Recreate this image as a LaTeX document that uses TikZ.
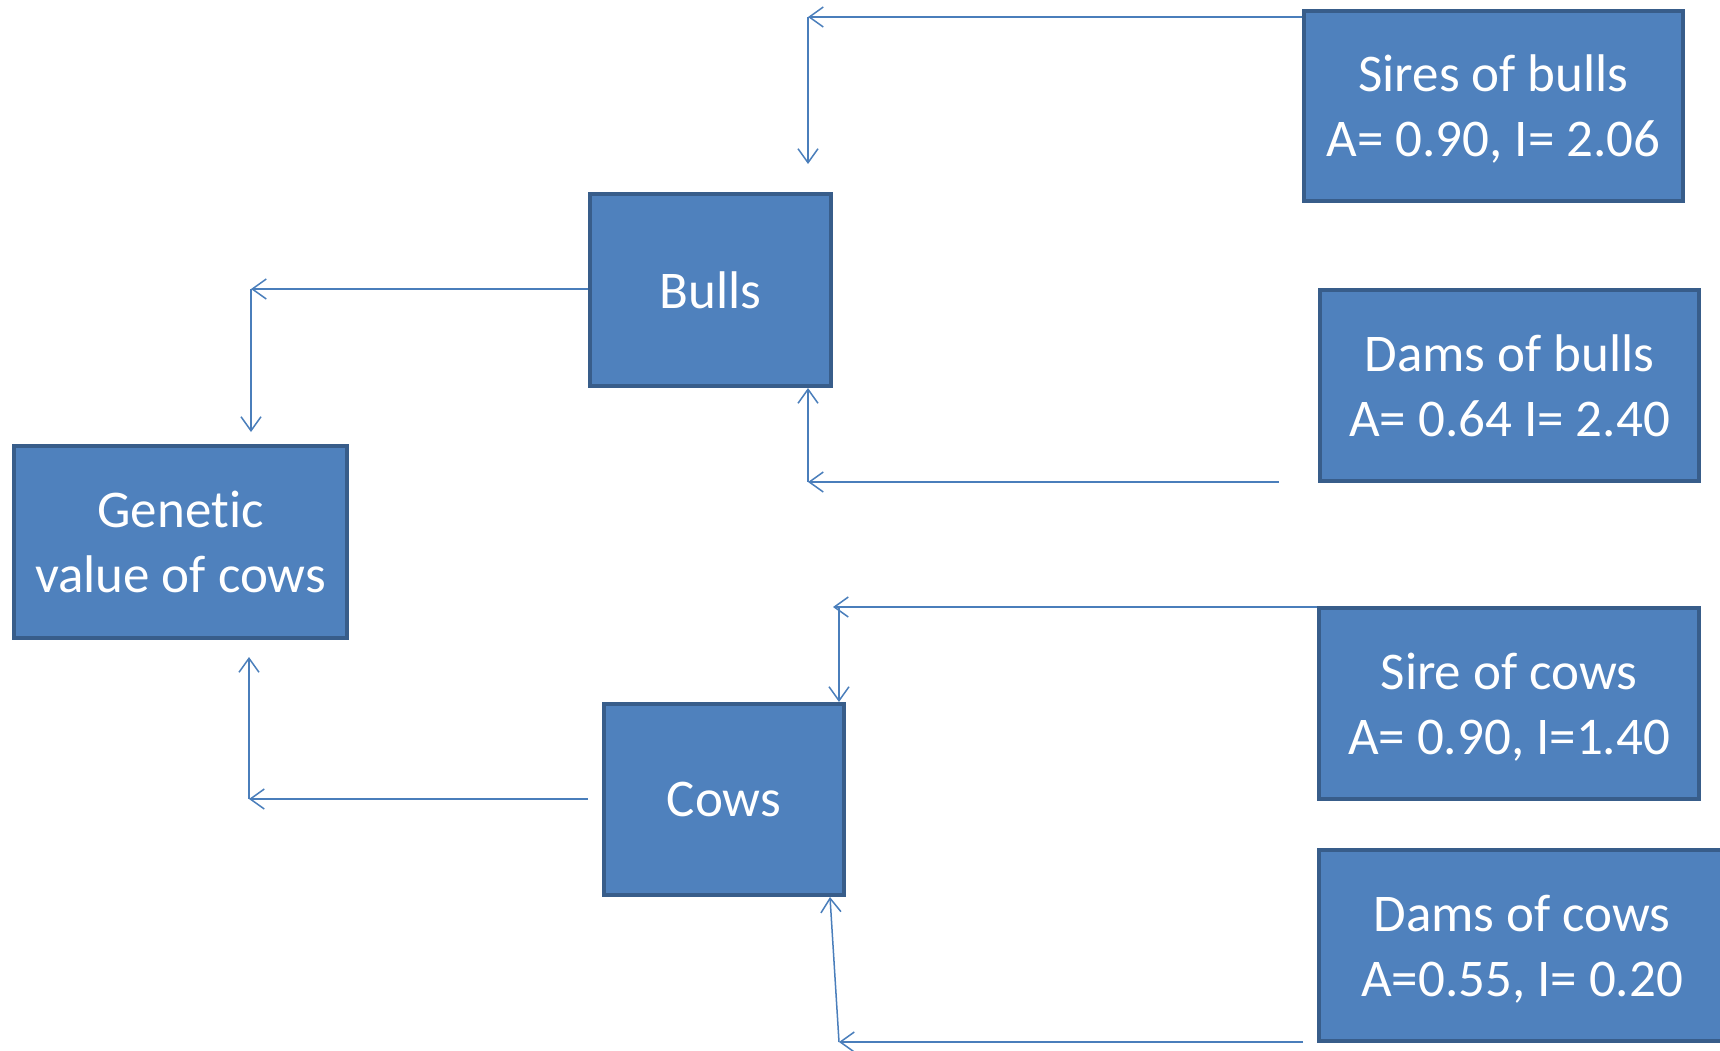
\documentclass[tikz,border=0pt]{standalone}
\usepackage{fontspec}
\setmainfont[Ligatures=NoCommon]{Carlito}
\usetikzlibrary{arrows.meta}
\definecolor{boxfill}{HTML}{4F81BD}
\definecolor{boxline}{HTML}{385D8A}
\definecolor{connc}{HTML}{4A7EBB}
\tikzset{
  box/.style={draw=boxline, fill=boxfill, line width=4pt, inner sep=0pt,
    text=white, align=center, text depth=0pt, font=\fontsize{53}{65}\selectfont},
  conn/.style={draw=connc, line width=1.5pt,
    -{Straight Barb[length=14pt,width=20pt,line width=1.5pt]}}
}
\begin{document}
\begin{tikzpicture}[x=1pt,y=-1pt]
\useasboundingbox (0,0) rectangle (1720,1050);
\clip (0,0) rectangle (1720,1050);
% boxes
\node[box, minimum width=333pt, minimum height=192pt] (gen) at (180.5,542) {Genetic\\value of cows};
\node[box, minimum width=241pt, minimum height=192pt] (bulls) at (710.5,290) {Bulls};
\node[box, minimum width=240pt, minimum height=191pt] (cows) at (724,799.5) {Cows};
\node[box, minimum width=379pt, minimum height=190pt] (sires) at (1493.5,106) {Sires of bulls\\A= 0.90, I= 2.06};
\node[box, minimum width=379pt, minimum height=191pt] (damsb) at (1509.5,385.5) {Dams of bulls\\A= 0.64 I= 2.40};
\node[box, minimum width=380pt, minimum height=191pt] (sirec) at (1509,703.5) {Sire of cows\\A= 0.90, I=1.40};
\node[box, minimum width=406pt, minimum height=191pt] (damsc) at (1522,945.5) {Dams of cows\\A=0.55, I= 0.20};
% connector points
\coordinate (sbC) at (808,17);
\coordinate (sbE) at (808,164);
\coordinate (bgC) at (251,289);
\coordinate (bgE) at (251,432);
\coordinate (dbS) at (1279,482);
\coordinate (dbC) at (808,482);
\coordinate (cgS) at (588,799);
\coordinate (cgC) at (249,799);
\coordinate (cgE) at (249,657);
\coordinate (scC) at (833,607);
\coordinate (scV) at (839,607);
\coordinate (dcS) at (1303,1042);
\coordinate (dcC) at (839,1042);
\coordinate (dcE) at (830,897);
% connectors
\draw[conn] (sires.west |- sbC) -- (sbC);
\draw[conn] (sbC) -- (sbE);
\draw[conn] (bulls.west |- bgC) -- (bgC);
\draw[conn] (bgC) -- (bgE);
\draw[conn] (dbS) -- (dbC);
\draw[conn] (dbC) -- (bulls.south -| dbC);
\draw[conn] (cgS) -- (cgC);
\draw[conn] (cgC) -- (cgE);
\draw[conn] (sirec.west |- scC) -- (scC);
\draw[conn] (scV) -- (cows.north -| scV);
\draw[conn] (dcS) -- (dcC);
\draw[conn] (dcC) -- (dcE);
\end{tikzpicture}
\end{document}
